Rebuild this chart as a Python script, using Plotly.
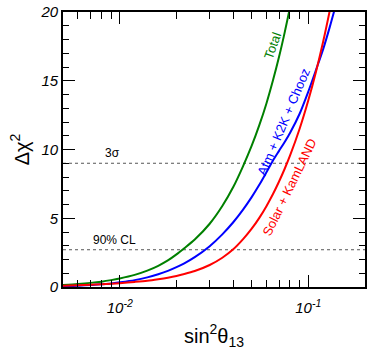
import math
import plotly.graph_objects as go

# sin^2(theta13) sample points
s2t13 = [0.005, 0.006, 0.007, 0.008, 0.009, 0.01, 0.012, 0.014, 0.016, 0.018,
         0.02, 0.022, 0.025, 0.03, 0.035, 0.04, 0.045, 0.05, 0.055, 0.06,
         0.065, 0.07, 0.075, 0.08, 0.09, 0.1, 0.11, 0.12, 0.13, 0.14]

chi_total = [0.15, 0.22, 0.30, 0.39, 0.50, 0.62, 0.88, 1.19, 1.54, 1.93,
             2.37, 2.82, 3.45, 4.60, 5.89, 7.27, 8.76, 10.24, 11.77, 13.35,
             15.03, 16.74, 18.52, 20.33, None, None, None, None, None, None]

chi_atm = [0.07, 0.10, 0.14, 0.20, 0.26, 0.34, 0.50, 0.70, 0.93, 1.17,
           1.44, 1.72, 2.17, 2.97, 3.83, 4.71, 5.61, 6.52, 7.43, 8.34,
           9.20, 9.90, 10.55, 11.20, 12.60, 14.20, 15.80, 17.30, 18.90, 20.50]

chi_solar = [0.10, 0.13, 0.17, 0.20, 0.24, 0.28, 0.37, 0.46, 0.57, 0.68,
             0.80, 0.94, 1.16, 1.60, 2.13, 2.74, 3.46, 4.22, 5.03, 5.88,
             6.76, 7.67, 8.60, 9.55, 11.51, 13.56, 15.68, 17.85, 20.09, 22.35]

cl_levels = [9.0, 2.71]
cl_names = ["3σ", "90% CL"]

x_range = [0.005, 0.2]
y_range = [0, 20]

major_x = [0.01, 0.1]
major_x_text = ["10<sup>-2</sup>", "10<sup>-1</sup>"]
minor_x = [0.006, 0.007, 0.008, 0.009, 0.02, 0.03, 0.04, 0.05, 0.06, 0.07,
           0.08, 0.09, 0.2]
major_y = [0, 5, 10, 15, 20]
minor_y = [1, 2, 3, 4, 6, 7, 8, 9, 11, 12, 13, 14, 16, 17, 18, 19]

FONT = "Liberation Sans, Arial, Helvetica, sans-serif"

fig = go.Figure()

for lvl in cl_levels:
    fig.add_trace(go.Scatter(x=x_range, y=[lvl, lvl], mode="lines",
                             line=dict(color="#555555", width=1, dash="dot"),
                             hoverinfo="skip", showlegend=False))

for ys, col in [(chi_total, "#008000"), (chi_atm, "#0000ff"), (chi_solar, "#ff0000")]:
    fig.add_trace(go.Scatter(x=s2t13, y=ys, mode="lines",
                             line=dict(color=col, width=2, shape="spline", smoothing=0.8),
                             showlegend=False))

lx = math.log10

annotations = [
    dict(x=lx(0.0091), y=cl_levels[0], text=cl_names[0], yanchor="bottom", xanchor="center",
         yshift=1, showarrow=False, font=dict(size=12, color="black", family=FONT)),
    dict(x=lx(0.0094), y=cl_levels[1], text=cl_names[1], yanchor="bottom", xanchor="center",
         yshift=1, showarrow=False, font=dict(size=12, color="black", family=FONT)),
    dict(x=lx(0.0645), y=17.6, text="Total", textangle=-70, showarrow=False,
         font=dict(size=13, color="#008000", family=FONT)),
    dict(x=lx(0.0735), y=12.0, text="Atm + K2K + Chooz", textangle=-67, showarrow=False,
         font=dict(size=13, color="#0000ff", family=FONT)),
    dict(x=lx(0.0800), y=7.3, text="Solar + KamLAND", textangle=-64, showarrow=False,
         font=dict(size=13, color="#ff0000", family=FONT)),
]

fig.update_layout(
    width=370, height=354,
    margin=dict(l=63, r=3, t=8, b=67),
    paper_bgcolor="white", plot_bgcolor="white",
    font=dict(family=FONT, color="black"),
    annotations=annotations,
    showlegend=False,
)

fig.update_xaxes(
    type="log", range=[lx(x_range[0]), lx(x_range[1])],
    showgrid=False, zeroline=False,
    showline=True, linecolor="black", linewidth=1.6, mirror="ticks",
    ticks="inside", ticklen=12, tickwidth=1.2, tickcolor="black",
    tickmode="array", tickvals=major_x, ticktext=major_x_text,
    tickfont=dict(size=15, style="italic", family=FONT),
    ticklabeloverflow="allow", ticklabelstandoff=6,
    minor=dict(tickmode="array", tickvals=minor_x, ticks="inside", ticklen=7,
               tickwidth=1.2, tickcolor="black", showgrid=False),
    title=dict(text="sin<sup>2</sup>θ<sub>13</sub>", font=dict(size=20, family=FONT), standoff=14),
)
fig.update_yaxes(
    range=y_range, showgrid=False, zeroline=False,
    showline=True, linecolor="black", linewidth=1.6, mirror="ticks",
    ticks="inside", ticklen=12, tickwidth=1.2, tickcolor="black",
    tickmode="array", tickvals=major_y,
    tickfont=dict(size=15, style="italic", family=FONT),
    ticklabeloverflow="allow",
    minor=dict(tickmode="array", tickvals=minor_y, ticks="inside", ticklen=6,
               tickwidth=1.2, tickcolor="black", showgrid=False),
    title=dict(text="Δχ<sup>2</sup>", font=dict(size=20, family=FONT), standoff=6),
)

fig.write_html("out.html", config={"displayModeBar": False},
               post_script="document.body.style.margin='0px';")
